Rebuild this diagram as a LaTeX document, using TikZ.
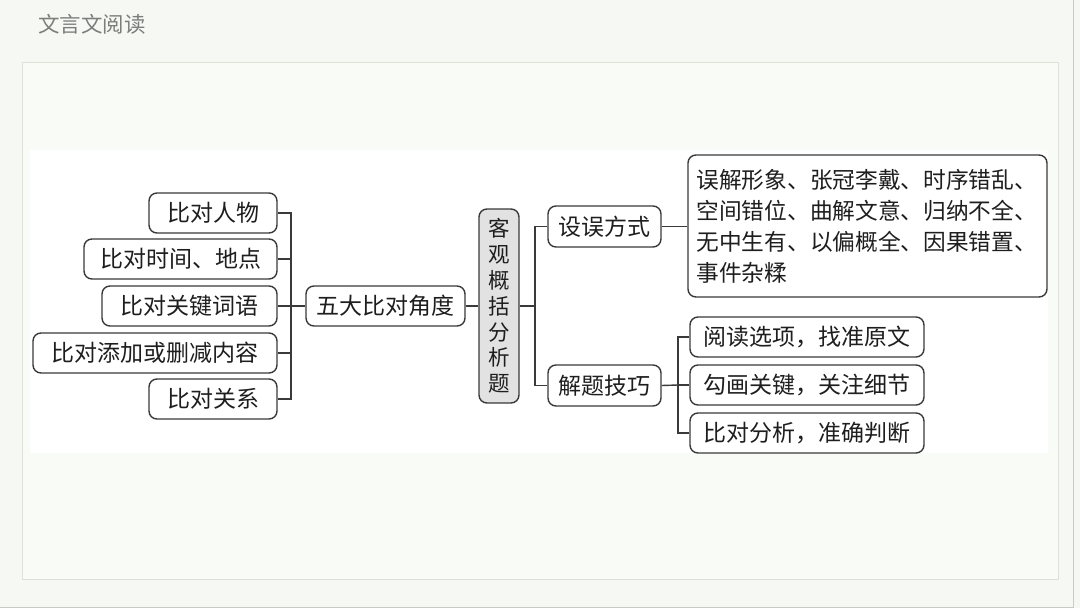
\documentclass[tikz,border=0pt]{standalone}
\usepackage{fontspec}
\setmainfont{Noto Sans CJK SC}
\definecolor{linec}{HTML}{3A3A3A}
\definecolor{txt}{HTML}{1E1E1E}
\definecolor{grayfill}{HTML}{E2E2E2}
\definecolor{bgc}{HTML}{F6F9F3}
\definecolor{framec}{HTML}{DCE2D6}
\definecolor{innerc}{HTML}{F9FBF7}
\definecolor{titlec}{HTML}{7D7D7D}
\definecolor{edgec}{HTML}{C8CCC6}
\begin{document}
\begin{tikzpicture}[x=1pt,y=-1pt,
  box/.style={draw=linec, line width=1.4pt, rounded corners=8pt, fill=white, text=txt,
    font=\fontsize{23}{26}\selectfont, inner sep=0pt, minimum height=40pt},
  conn/.style={draw=linec, line width=1.4pt}]
\useasboundingbox (0,0) rectangle (1080,608);
\fill[bgc] (0,0) rectangle (1080,608);
\draw[edgec, line width=1pt] (1073,0) -- (1073,607) -- (0,607);
\draw[framec, line width=1pt, fill=innerc] (22,62) rectangle (1058,579);
\fill[white] (30,150) rectangle (1048,453);
\node[text=titlec, font=\fontsize{21.5}{24}\selectfont, anchor=west, inner sep=0pt] (title) at (38,24) {文言文阅读};
% left branch
\node[box, minimum width=128pt] (a1) at (213,213) {比对人物};
\node[box, minimum width=193pt] (a2) at (180.5,259) {比对时间、地点};
\node[box, minimum width=175pt] (a3) at (189.5,306) {比对关键词语};
\node[box, minimum width=244pt] (a4) at (155,353) {比对添加或删减内容};
\node[box, minimum width=128pt] (a5) at (213,399) {比对关系};
\node[box, minimum width=159pt] (b) at (385.5,306) {五大比对角度};
\node[box, fill=grayfill, minimum width=40pt, minimum height=194pt, align=center,
  font=\fontsize{21.5}{25.8}\selectfont] (c) at (499,306) {客\\观\\概\\括\\分\\析\\题};
% right branch
\node[box, minimum width=113pt, minimum height=41pt] (d1) at (604.5,226.5) {设误方式};
\node[box, minimum width=113pt, minimum height=41pt] (d2) at (604.5,385.5) {解题技巧};
\node[box, minimum width=359pt, minimum height=142pt, text width=342pt, inner xsep=8.5pt,
  align=left, font=\fontsize{22.7}{31}\selectfont] (e) at (867.5,226)
  {误解形象、张冠李戴、时序错乱、\\空间错位、曲解文意、归纳不全、\\无中生有、以偏概全、因果错置、\\事件杂糅};
\node[box, minimum width=234pt] (f1) at (807,337) {阅读选项，找准原文};
\node[box, minimum width=234pt] (f2) at (807,385) {勾画关键，关注细节};
\node[box, minimum width=234pt] (f3) at (807,433) {比对分析，准确判断};
% connectors
\coordinate (L) at (291,306);
\coordinate (M) at (535,306);
\coordinate (R) at (678,385);
\draw[conn] (b.west) -- (L);
\foreach \n in {a1,a2,a3,a4,a5} { \draw[conn] (\n.east) -| (L); }
\draw[conn] (b.east) -- (c.west);
\draw[conn] (c.east) -- (M);
\draw[conn] (d1.west) -| (M);
\draw[conn] (d2.west) -| (M);
\draw[conn] (d1.east) -- (d1.east -| e.west);
\draw[conn] (d2.east) -- (R);
\draw[conn] (f1.west) -| (R);
\draw[conn] (f2.west) -- (R);
\draw[conn] (f3.west) -| (R);
\end{tikzpicture}
\end{document}
